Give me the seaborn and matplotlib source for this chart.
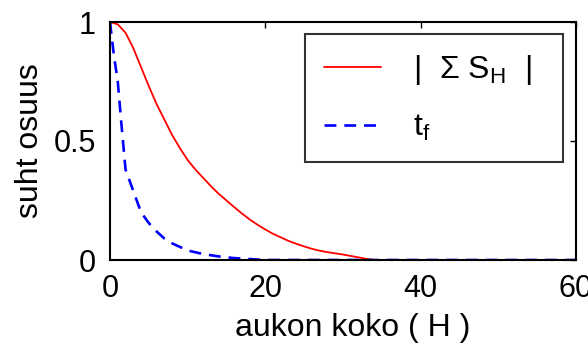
import matplotlib
matplotlib.use("Agg")
import matplotlib.pyplot as plt
import seaborn as sns
import pandas as pd

# Relative share as a function of gap size H
h_sum = [0, 1, 2, 3, 4, 5, 6, 7, 8, 9, 10, 11, 12, 13, 14, 15, 16, 17, 18,
         19, 20, 21, 22, 23, 24, 25, 26, 27, 28, 29, 30, 31, 32, 33, 34, 60]
sum_sh = [1.0, 0.99, 0.955, 0.89, 0.81, 0.73, 0.655, 0.59, 0.525, 0.47, 0.42,
          0.38, 0.345, 0.31, 0.278, 0.25, 0.222, 0.195, 0.17, 0.148, 0.128,
          0.11, 0.095, 0.08, 0.068, 0.057, 0.047, 0.039, 0.033, 0.028, 0.023,
          0.017, 0.011, 0.005, 0.0, 0.0]

h_tf = [0, 0.5, 1, 1.5, 2, 3, 4, 5, 6, 7, 8, 9, 10, 12, 14, 16, 18, 20, 60]
tf = [1.0, 0.86, 0.75, 0.56, 0.38, 0.29, 0.20, 0.155, 0.12, 0.09, 0.07,
      0.055, 0.04, 0.025, 0.015, 0.008, 0.004, 0.0, 0.0]

x_ticks = [0, 20, 40, 60]
y_ticks = [0, 0.5, 1]
y_tick_labels = ["0", "0.5", "1"]

sns.set_style("white")
plt.rcParams["font.family"] = ["Liberation Sans", "DejaVu Sans"]
plt.rcParams["mathtext.default"] = "regular"
plt.rcParams["text.color"] = "black"
plt.rcParams["axes.labelcolor"] = "black"

fig = plt.figure(figsize=(5.88, 3.44), dpi=100)
ax = fig.add_axes([110 / 588, 1 - 260 / 344, 466 / 588, 238 / 344])

df_sum = pd.DataFrame({"H": h_sum, "v": sum_sh})
df_tf = pd.DataFrame({"H": h_tf, "v": tf})

sns.lineplot(data=df_sum, x="H", y="v", ax=ax, color="#ff0000",
             linewidth=1.3, label=r"|  Σ S$_{H}$  |  ")
sns.lineplot(data=df_tf, x="H", y="v", ax=ax, color="#0000ff",
             linewidth=1.9, linestyle=(0, (4.5, 3)), label=r"t$_{f}$")

ax.set_xlim(0, 60)
ax.set_ylim(0, 1)
ax.set_xticks(x_ticks)
ax.set_yticks(y_ticks)
ax.set_yticklabels(y_tick_labels)
ax.tick_params(direction="in", length=4, width=1, labelsize=22,
               top=True, right=True, colors="black", labelcolor="black",
               pad=10)
for s in ax.spines.values():
    s.set_color("black")
    s.set_linewidth(1.5)

ax.set_xlabel("aukon koko ( H )", fontsize=23, color="black")
ax.xaxis.set_label_coords(0.52, -0.222)
ax.set_ylabel("suht osuus", fontsize=23, labelpad=6, color="black")

leg = ax.legend(loc="upper right", bbox_to_anchor=(563 / 588, 1 - 34 / 344),
                bbox_transform=fig.transFigure, fontsize=23, frameon=True,
                fancybox=False, edgecolor="black", handlelength=1.8,
                borderpad=0.6, labelspacing=0.8, handletextpad=1.0,
                borderaxespad=0)
leg.get_frame().set_linewidth(1.5)

fig.savefig("out.png", dpi=100)
